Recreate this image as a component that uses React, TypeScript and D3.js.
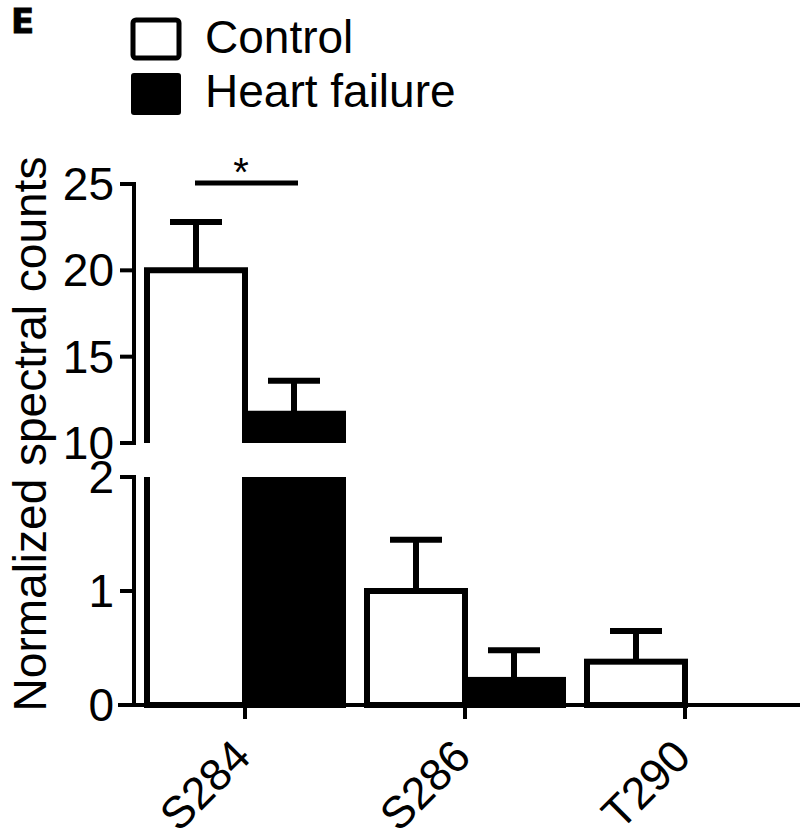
import React from "react";
import * as d3 from "d3";

const categories = ["S284", "S286", "T290"];
const series = ["Control", "Heart failure"];
const controlValues = [20.0, 1.0, 0.38];
const controlErrors = [2.8, 0.45, 0.27];
const hfValues = [11.7, 0.22, 0];
const hfErrors = [1.9, 0.26, 0];
const upperTicks = [10, 15, 20, 25];
const lowerTicks = [0, 1, 2];

const W = 800;
const H = 838;
const FONT = "'Liberation Sans', Arial, sans-serif";

export default function App() {
  const axisX = 134;
  const baseY = 705;
  const lowerTop = 477;
  const upperBottom = 443;
  const yLower = d3.scaleLinear().domain([0, 2]).range([baseY, lowerTop]);
  const yUpper = d3.scaleLinear().domain([10, 25]).range([upperBottom, 184]);
  const x = d3.scaleBand<string>().domain(categories).range([135, 795]).padding(0);
  const barW = 98;
  const sub = d3.scaleBand<string>().domain(series).range([-barW, barW]).padding(0);

  const yOf = (v: number) => (v <= 2 ? yLower(v) : yUpper(v));

  const bars: React.ReactNode[] = [];
  const errs: React.ReactNode[] = [];

  categories.forEach((c, i) => {
    const cx = (x(c) as number) + x.bandwidth() / 2;
    [
      { s: series[0], v: controlValues[i], e: controlErrors[i], fill: "#fff" },
      { s: series[1], v: hfValues[i], e: hfErrors[i], fill: "#000" },
    ].forEach((b, j) => {
      if (b.v <= 0) return;
      const x0 = cx + (sub(b.s) as number);
      const x1 = x0 + sub.bandwidth();
      if (b.v <= 2) {
        const yt = yLower(b.v);
        bars.push(
          <rect key={`b${i}${j}`} x={x0} y={yt} width={x1 - x0} height={baseY - yt}
            fill={b.fill} stroke="#000" strokeWidth={6} />
        );
      } else {
        const yt = yUpper(b.v);
        bars.push(
          <g key={`b${i}${j}`}>
            <rect x={x0} y={lowerTop} width={x1 - x0} height={baseY - lowerTop} fill={b.fill} stroke="none" />
            <path d={`M${x0},${lowerTop}L${x0},${baseY}L${x1},${baseY}L${x1},${lowerTop}`} fill="none" stroke="#000" strokeWidth={6} />
            <rect x={x0} y={yt} width={x1 - x0} height={upperBottom - yt} fill={b.fill} stroke="none" />
            <path d={`M${x0},${upperBottom}L${x0},${yt}L${x1},${yt}L${x1},${upperBottom}`} fill="none" stroke="#000" strokeWidth={6} />
          </g>
        );
      }
      if (b.e > 0) {
        const mx = (x0 + x1) / 2;
        const yt = yOf(b.v);
        const ye = yOf(b.v + b.e);
        errs.push(
          <g key={`e${i}${j}`} stroke="#000" strokeWidth={6}>
            <line x1={mx} x2={mx} y1={yt} y2={ye} />
            <line x1={mx - 26} x2={mx + 26} y1={ye} y2={ye} />
          </g>
        );
      }
    });
  });

  return (
    <svg width={W} height={H} style={{ position: "absolute", left: 0, top: 0, background: "#fff" }} fontFamily={FONT}>
      <rect width={W} height={H} fill="#fff" />
      <text x={11} y={33} fontFamily="'DejaVu Sans', sans-serif" fontWeight={700} fontSize={34} stroke="#000" strokeWidth={0.8}>E</text>

      {/* legend */}
      <rect x={133} y={20} width={46} height={38} rx={3} fill="#fff" stroke="#000" strokeWidth={5} />
      <text x={205} y={53} fontSize={46}>{series[0]}</text>
      <rect x={131} y={73} width={50} height={42} rx={3} fill="#000" />
      <text x={205} y={107} fontSize={46}>{series[1]}</text>

      {/* axis title */}
      <text transform={`translate(46,434) rotate(-90)`} textAnchor="middle" fontSize={46}>Normalized spectral counts</text>

      {bars}
      {errs}

      {/* y axis */}
      <g stroke="#000" strokeWidth={4}>
        <line x1={axisX} x2={axisX} y1={yUpper(25) - 2} y2={upperBottom} />
        <line x1={axisX} x2={axisX} y1={lowerTop} y2={baseY} />
        {upperTicks.map((t) => (
          <line key={`ut${t}`} x1={axisX - 14} x2={axisX + 2} y1={yUpper(t)} y2={yUpper(t)} />
        ))}
        {lowerTicks.map((t) => (
          <line key={`lt${t}`} x1={axisX - 14} x2={axisX + 2} y1={yLower(t)} y2={yLower(t)} />
        ))}
        <line x1={118} x2={800} y1={baseY} y2={baseY} />
        {categories.map((c) => {
          const cx = (x(c) as number) + x.bandwidth() / 2;
          return <line key={`xt${c}`} x1={cx} x2={cx} y1={baseY} y2={baseY + 14} />;
        })}
      </g>
      {upperTicks.map((t) => (
        <text key={`ul${t}`} x={114} y={yUpper(t) + 16} textAnchor="end" fontSize={46}>{t}</text>
      ))}
      {lowerTicks.map((t) => (
        <text key={`ll${t}`} x={114} y={yLower(t) + 16} textAnchor="end" fontSize={46}>{t}</text>
      ))}

      {categories.map((c) => {
        const cx = (x(c) as number) + x.bandwidth() / 2;
        return (
          <text key={`xl${c}`} transform={`translate(${cx + 8},${baseY + 54}) rotate(-45)`} textAnchor="end" fontSize={45}>{c}</text>
        );
      })}

      {/* significance */}
      <line x1={195} x2={298} y1={183} y2={183} stroke="#000" strokeWidth={5} />
      <text x={241} y={186} textAnchor="middle" fontSize={40}>*</text>
    </svg>
  );
}
